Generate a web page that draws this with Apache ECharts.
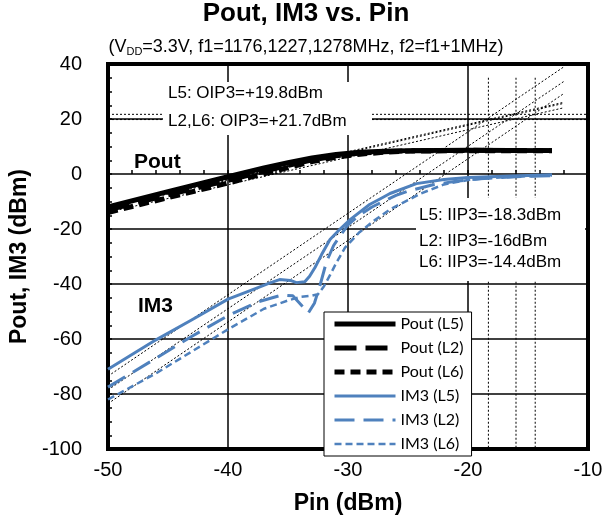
<!DOCTYPE html>
<html>
<head>
<meta charset="utf-8">
<script src="https://cdn.jsdelivr.net/npm/echarts@6/dist/echarts.min.js"></script>
<style>
html, body { margin: 0; padding: 0; background: #fff; }
#main { width: 612px; height: 517px; }
</style>
</head>
<body>
<div id="main"></div>
<script>
// Pout curves (dBm) vs Pin (dBm)
const poutPin = [-50, -45, -40, -37, -35, -33, -31, -29, -27, -25, -20, -13];
const poutL5 = [-12, -6.4, -1, 2.2, 4.1, 5.8, 7.1, 7.9, 8.3, 8.5, 8.6, 8.5];
const poutL2 = [-13, -7.6, -2.3, 1, 3.1, 5.1, 6.6, 7.6, 8.1, 8.4, 8.6, 8.5];
const poutL6 = [-14, -8.6, -3.3, 0.1, 2.3, 4.5, 6.1, 7.2, 7.9, 8.3, 8.5, 8.5];

// IM3 curves
const im3PinL5 = [-50, -46, -43, -40, -37.5, -36.5, -35.7, -34.8, -34.3, -33.6, -33.2, -32.75, -32.2, -31.5, -30.7, -29.8, -28.2, -27.3, -26.5, -24.3, -22, -20, -17, -13];
const im3L5 = [-71, -60.3, -53, -45.5, -41.3, -39.6, -38.4, -38.7, -39.5, -39.2, -37.2, -34, -29.3, -23.8, -20.2, -16.5, -11.1, -9, -7.1, -3.5, -2, -1.3, -0.8, -0.3];
const im3PinL2 = [-50, -46, -43, -40, -37.5, -35.5, -34.6, -33.3, -32.8, -32.3, -31.8, -31.2, -30.5, -30, -29, -28, -27, -26, -25, -23, -21, -19, -16, -13];
const im3L2 = [-77.5, -67, -59, -51.5, -46.5, -44, -44.3, -50.5, -47, -40, -32, -26, -21.5, -18.5, -14.8, -12, -9.8, -7.8, -6.2, -4, -2.6, -1.7, -1, -0.6];
const im3PinL6 = [-50, -46, -43, -40, -37, -35, -34, -33, -32.5, -32, -31.5, -31, -30.25, -29.1, -27.9, -26.5, -25, -24, -22, -20, -18, -15, -13];
const im3L6 = [-82, -72.5, -64.5, -56.5, -49, -46, -44.7, -44.2, -43.7, -40.8, -36.8, -32.5, -26.8, -21.4, -17.2, -12.9, -9.5, -7.2, -3.8, -2.2, -1.4, -0.8, -0.5];

// extrapolation lines (end points)
const extPin = [-50, -12];
const fundExtL5 = [-11.9, 26.1];
const fundExtL2 = [-12.3, 25.7];
const fundExtL6 = [-13.9, 24.1];
const im3ExtL5 = [-73.5, 39];
const im3ExtL2 = [-78.5, 33.7];
const im3ExtL6 = [-83.5, 29.3];

// intercept markers
const iip3 = [-18.3, -16, -14.4];
const iip3Span = [35, -100];
const oip3 = [19.8, 21.7];
const oip3Span = [-50, -10];

const legendNames = ['Pout (L5)', 'Pout (L2)', 'Pout (L6)', 'IM3 (L5)', 'IM3 (L2)', 'IM3 (L6)'];

const BLUE = '#4f81bd';
const ARIAL = '"Liberation Sans", Arial, sans-serif';

function pairs(xs, ys) {
    return xs.map((x, i) => [x, ys[i]]);
}

function guide(name, data) {
    return {
        name: name, type: 'line', data: data, symbol: 'none', silent: true, z: 1,
        lineStyle: { color: '#000', width: 1, type: [2, 2] }
    };
}

function curve(name, data, color, width, dash) {
    return {
        name: name, type: 'line', data: data, symbol: 'none', z: 3,
        lineStyle: { color: color, width: width, type: dash, join: 'round' }
    };
}

const series = [];
[fundExtL5, fundExtL2, fundExtL6, im3ExtL5, im3ExtL2, im3ExtL6].forEach((ext, i) => {
    series.push(guide('ext' + i, pairs(extPin, ext)));
});
iip3.forEach((v, i) => {
    series.push(guide('iip3_' + i, [[v, iip3Span[0]], [v, iip3Span[1]]]));
});
oip3.forEach((v, i) => {
    series.push(guide('oip3_' + i, [[oip3Span[0], v], [oip3Span[1], v]]));
});
series.push(curve('Pout (L5)', pairs(poutPin, poutL5), '#000', 5, 'solid'));
series.push(curve('Pout (L2)', pairs(poutPin, poutL2), '#000', 5, [22, 9]));
series.push(curve('Pout (L6)', pairs(poutPin, poutL6), '#000', 5, [10, 6]));
series.push(curve('IM3 (L5)', pairs(im3PinL5, im3L5), BLUE, 3, 'solid'));
series.push(curve('IM3 (L2)', pairs(im3PinL2, im3L2), BLUE, 3, [20, 9]));
series.push(curve('IM3 (L6)', pairs(im3PinL6, im3L6), BLUE, 2.5, [7, 4]));

const legendStyles = [
    { width: 5, type: 'solid', color: '#000' },
    { width: 5, type: [22, 9], color: '#000' },
    { width: 5, type: [10, 6], color: '#000' },
    { width: 3, type: 'solid', color: BLUE },
    { width: 3, type: [20, 9], color: BLUE },
    { width: 2.5, type: [7, 4], color: BLUE }
];

function label(x, y, text, size, weight) {
    return {
        type: 'text', x: x, y: y, z: 2,
        style: {
            text: text, fill: '#000', fontFamily: ARIAL, fontSize: size,
            fontWeight: weight || 'normal', align: 'left', verticalAlign: 'middle'
        }
    };
}

const chart = echarts.init(document.getElementById('main'), null, { renderer: 'canvas' });
chart.setOption({
    animation: false,
    backgroundColor: '#fff',
    title: [{
        text: 'Pout, IM3 vs. Pin',
        left: 'center', top: -4,
        textStyle: { fontFamily: ARIAL, fontSize: 26, fontWeight: 'bold', color: '#000' }
    }, {
        text: '(V{sub|DD}=3.3V, f1=1176,1227,1278MHz, f2=f1+1MHz)',
        left: 'center', top: 32,
        textStyle: {
            fontFamily: ARIAL, fontSize: 18, fontWeight: 'normal', color: '#000',
            rich: { sub: { fontFamily: ARIAL, fontSize: 11, color: '#000', padding: [9, 0, 0, 0] } }
        }
    }],
    grid: {
        left: 108, top: 64, width: 480, height: 385,
        show: true, borderColor: '#000', borderWidth: 4,
        outerBoundsMode: 'none'
    },
    legend: {
        data: legendNames.map((n, i) => ({ name: n, lineStyle: legendStyles[i] })),
        orient: 'vertical',
        left: 324, top: 312,
        itemWidth: 61, itemHeight: 14, itemGap: 8,
        padding: [4, 8, 4, 8],
        backgroundColor: '#fff', borderColor: '#000', borderWidth: 1, borderRadius: 0,
        itemStyle: { opacity: 0, borderWidth: 0 },
        textStyle: { fontFamily: 'Lato', fontSize: 16, color: '#000' },
        selectedMode: false
    },
    xAxis: {
        type: 'value', min: -50, max: -10, interval: 10,
        name: 'Pin (dBm)', nameLocation: 'middle', nameGap: 43,
        nameTextStyle: { fontFamily: ARIAL, fontSize: 23, fontWeight: 'bold', color: '#000' },
        axisLine: { show: false },
        axisTick: { show: true, inside: true, length: 4, lineStyle: { color: '#000', width: 1.5 } },
        minorTick: { show: true, splitNumber: 5, length: 4, lineStyle: { color: '#000', width: 1.5 } },
        axisLabel: { fontFamily: ARIAL, fontSize: 20, color: '#000', margin: 11 },
        splitLine: { show: true, lineStyle: { color: '#000', width: 1.5 } }
    },
    yAxis: {
        type: 'value', min: -100, max: 40, interval: 20,
        name: 'Pout, IM3 (dBm)', nameLocation: 'middle', nameGap: 73,
        nameTextStyle: { fontFamily: ARIAL, fontSize: 23, fontWeight: 'bold', color: '#000' },
        axisLine: { show: false },
        axisTick: { show: true, inside: true, length: 4, lineStyle: { color: '#000', width: 1.5 } },
        minorTick: { show: true, splitNumber: 4, length: 4, lineStyle: { color: '#000', width: 1.5 } },
        axisLabel: { fontFamily: ARIAL, fontSize: 20, color: '#000', margin: 26 },
        splitLine: { show: true, lineStyle: { color: '#000', width: 1.5 } }
    },
    graphic: [
        { type: 'rect', z: 2, shape: { x: 163, y: 82, width: 209, height: 53 }, style: { fill: '#fff' } },
        { type: 'rect', z: 2, shape: { x: 416, y: 198, width: 169, height: 83 }, style: { fill: '#fff' } },
        label(168, 93.5, 'L5: OIP3=+19.8dBm', 17),
        label(168, 121, 'L2,L6: OIP3=+21.7dBm', 17),
        label(419, 215.5, 'L5: IIP3=-18.3dBm', 17),
        label(419, 241.5, 'L2: IIP3=-16dBm', 17),
        label(419, 262.5, 'L6: IIP3=-14.4dBm', 17),
        label(134, 162, 'Pout', 21, 'bold'),
        label(138, 306, 'IM3', 21, 'bold')
    ],
    series: series
});
</script>
</body>
</html>
